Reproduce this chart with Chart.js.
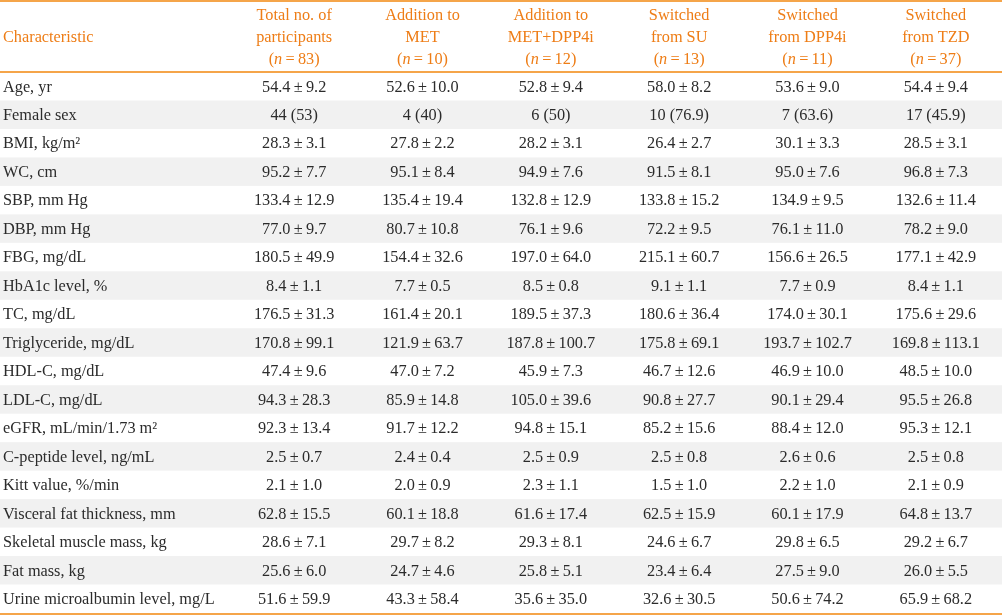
<!DOCTYPE html>
<html>
<head>
<meta charset="utf-8">
<script src="https://cdn.jsdelivr.net/npm/chart.js@4"></script>
<style>
  body { margin: 0; background: #fff; }
  canvas { display: block; }
</style>
</head>
<body>
<canvas id="tbl" width="1002" height="615"></canvas>
<script>
// column headers
const groupTitles = [
    ['Total no. of', 'participants'],
    ['Addition to', 'MET'],
    ['Addition to', 'MET+DPP4i'],
    ['Switched', 'from SU'],
    ['Switched', 'from DPP4i'],
    ['Switched', 'from TZD']
];
const groupN = [83, 10, 12, 13, 11, 37];

const characteristics = [
    'Age, yr', 'Female sex', 'BMI, kg/m\u00b2', 'WC, cm', 'SBP, mm Hg', 'DBP, mm Hg',
    'FBG, mg/dL', 'HbA1c level, %', 'TC, mg/dL', 'Triglyceride, mg/dL', 'HDL-C, mg/dL',
    'LDL-C, mg/dL', 'eGFR, mL/min/1.73 m\u00b2', 'C-peptide level, ng/mL', 'Kitt value, %/min',
    'Visceral fat thickness, mm', 'Skeletal muscle mass, kg', 'Fat mass, kg',
    'Urine microalbumin level, mg/L'
];

const total = ['54.4±9.2', '44 (53)', '28.3±3.1', '95.2±7.7', '133.4±12.9', '77.0±9.7',
    '180.5±49.9', '8.4±1.1', '176.5±31.3', '170.8±99.1', '47.4±9.6', '94.3±28.3',
    '92.3±13.4', '2.5±0.7', '2.1±1.0', '62.8±15.5', '28.6±7.1', '25.6±6.0', '51.6±59.9'];
const addMet = ['52.6±10.0', '4 (40)', '27.8±2.2', '95.1±8.4', '135.4±19.4', '80.7±10.8',
    '154.4±32.6', '7.7±0.5', '161.4±20.1', '121.9±63.7', '47.0±7.2', '85.9±14.8',
    '91.7±12.2', '2.4±0.4', '2.0±0.9', '60.1±18.8', '29.7±8.2', '24.7±4.6', '43.3±58.4'];
const addMetDpp = ['52.8±9.4', '6 (50)', '28.2±3.1', '94.9±7.6', '132.8±12.9', '76.1±9.6',
    '197.0±64.0', '8.5±0.8', '189.5±37.3', '187.8±100.7', '45.9±7.3', '105.0±39.6',
    '94.8±15.1', '2.5±0.9', '2.3±1.1', '61.6±17.4', '29.3±8.1', '25.8±5.1', '35.6±35.0'];
const fromSu = ['58.0±8.2', '10 (76.9)', '26.4±2.7', '91.5±8.1', '133.8±15.2', '72.2±9.5',
    '215.1±60.7', '9.1±1.1', '180.6±36.4', '175.8±69.1', '46.7±12.6', '90.8±27.7',
    '85.2±15.6', '2.5±0.8', '1.5±1.0', '62.5±15.9', '24.6±6.7', '23.4±6.4', '32.6±30.5'];
const fromDpp = ['53.6±9.0', '7 (63.6)', '30.1±3.3', '95.0±7.6', '134.9±9.5', '76.1±11.0',
    '156.6±26.5', '7.7±0.9', '174.0±30.1', '193.7±102.7', '46.9±10.0', '90.1±29.4',
    '88.4±12.0', '2.6±0.6', '2.2±1.0', '60.1±17.9', '29.8±6.5', '27.5±9.0', '50.6±74.2'];
const fromTzd = ['54.4±9.4', '17 (45.9)', '28.5±3.1', '96.8±7.3', '132.6±11.4', '78.2±9.0',
    '177.1±42.9', '8.4±1.1', '175.6±29.6', '169.8±113.1', '48.5±10.0', '95.5±26.8',
    '95.3±12.1', '2.5±0.8', '2.1±0.9', '64.8±13.7', '29.2±6.7', '26.0±5.5', '65.9±68.2'];

const columns = [total, addMet, addMetDpp, fromSu, fromDpp, fromTzd];
const colKeys = ['total', 'met', 'metdpp', 'su', 'dpp', 'tzd'];

const FONT = "'Liberation Serif', 'Times New Roman', serif";
const SIZE = '16.3px ';
const TEXT = '#2b2b2b';
const ORANGE = '#ee7d16';
const RULE = '#f5a54a';
const STRIPE = '#f1f1f1';

// the typeset table puts a little air around the ± sign
const pm = s => s.replace('±', '\u2009±\u2009');

const tablePlugin = {
    id: 'tableDraw',
    beforeDatasetsDraw(chart) {
        const ctx = chart.ctx, area = chart.chartArea, y = chart.scales.y;
        const h = (area.bottom - area.top) / characteristics.length;
        ctx.save();
        characteristics.forEach((c, i) => {
            if (i % 2 === 1) {
                ctx.fillStyle = STRIPE;
                ctx.fillRect(0, y.getPixelForValue(i) - h / 2, chart.width, h);
            }
        });
        // row labels
        ctx.fillStyle = TEXT;
        ctx.font = SIZE + FONT;
        ctx.textAlign = 'left';
        ctx.textBaseline = 'middle';
        characteristics.forEach((c, i) => ctx.fillText(c, 3, y.getPixelForValue(i) + 1));
        ctx.restore();
    },
    afterDatasetsDraw(chart) {
        const ctx = chart.ctx, area = chart.chartArea, x = chart.scales.x;
        ctx.save();
        // cell values
        ctx.fillStyle = TEXT;
        ctx.font = SIZE + FONT;
        ctx.textAlign = 'center';
        ctx.textBaseline = 'middle';
        chart.data.datasets.forEach((ds, di) => {
            chart.getDatasetMeta(di).data.forEach((pt, i) => {
                ctx.fillText(pm(ds.cells[i]), pt.x, pt.y + 1);
            });
        });
        // header
        ctx.fillStyle = ORANGE;
        ctx.textAlign = 'left';
        ctx.fillText('Characteristic', 3, 38);
        ctx.textAlign = 'center';
        groupTitles.forEach((t, j) => {
            const cx = x.getPixelForValue(j);
            ctx.font = SIZE + FONT;
            ctx.fillText(t[0], cx, 16);
            ctx.fillText(t[1], cx, 38);
            // (n=xx) with italic n
            const a = '(', b = 'n', c = '\u2009=\u2009' + groupN[j] + ')';
            const fa = SIZE + FONT, fb = 'italic ' + SIZE + FONT;
            ctx.font = fa; const wa = ctx.measureText(a).width, wc = ctx.measureText(c).width;
            ctx.font = fb; const wb = ctx.measureText(b).width;
            let sx = cx - (wa + wb + wc) / 2;
            ctx.textAlign = 'left';
            ctx.font = fa; ctx.fillText(a, sx, 60); sx += wa;
            ctx.font = fb; ctx.fillText(b, sx, 60); sx += wb;
            ctx.font = fa; ctx.fillText(c, sx, 60);
            ctx.textAlign = 'center';
        });
        // rules
        ctx.fillStyle = RULE;
        ctx.fillRect(0, 0, chart.width, 2);
        ctx.fillRect(0, area.top - 1, chart.width, 2);
        ctx.fillRect(0, area.bottom, chart.width, 2);
        ctx.restore();
    }
};

new Chart(document.getElementById('tbl'), {
    type: 'scatter',
    data: {
        datasets: columns.map((col, j) => ({
            label: colKeys[j],
            cells: col,
            data: col.map((v, i) => ({ x: colKeys[j], y: characteristics[i] })),
            pointRadius: 0,
            pointHoverRadius: 0
        }))
    },
    options: {
        responsive: false,
        animation: false,
        devicePixelRatio: 1,
        layout: { padding: { top: 72, bottom: 2, left: 230, right: 2 } },
        plugins: { legend: { display: false }, tooltip: { enabled: false } },
        events: [],
        scales: {
            x: { type: 'category', labels: colKeys, offset: true, display: false },
            y: { type: 'category', labels: characteristics, offset: true, display: false }
        }
    },
    plugins: [tablePlugin]
});
</script>
</body>
</html>
